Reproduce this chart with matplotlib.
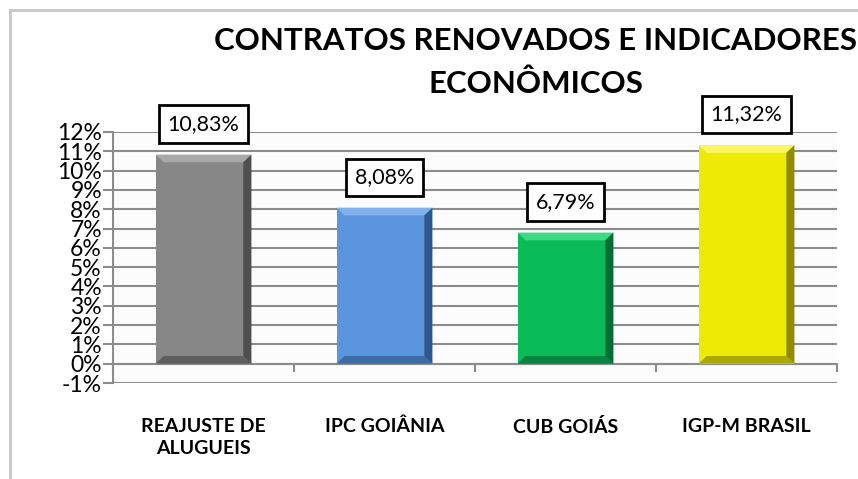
import matplotlib.pyplot as plt
from matplotlib.patches import Polygon
from matplotlib.lines import Line2D
import numpy as np

# --- DADOS ---
categorias = ["REAJUSTE DE\nALUGUEIS", "IPC GOIÂNIA", "CUB GOIÁS", "IGP-M BRASIL"]
valores = [10.83, 8.08, 6.79, 11.32]
rotulos = ["10,83%", "8,08%", "6,79%", "11,32%"]
cores = ["#878787", "#5A95DE", "#09BC58", "#EEEA05"]
cores_escuras = ["#454545", "#284F80", "#046030", "#807C00"]
cores_claras = ["#A8A8A8", "#80B2EE", "#3ED985", "#FAF760"]
ticks_y = list(range(-1, 13))

plt.rcParams['font.family'] = ['Lato', 'DejaVu Sans']

fig = plt.figure(figsize=(8.58, 4.79), dpi=100)
ax = fig.add_axes([113 / 858, 96 / 479, 724 / 858, 251 / 479])
ax.set_facecolor("#FCFCFC")

# spines primeiro (set_position reinicia os ticks)
for s in ["top", "right"]:
    ax.spines[s].set_visible(False)
ax.spines["bottom"].set_position(("data", 0))
ax.spines["bottom"].set_color("#8C8C8C")
ax.spines["bottom"].set_linewidth(1.5)
ax.spines["left"].set_color("#8C8C8C")
ax.spines["left"].set_linewidth(1.5)

x = np.arange(len(categorias))
largura = 0.53
barras = ax.bar(x, valores, width=largura, color=cores, zorder=3)

# efeito de chanfro nas barras
bx, by = 0.045, 0.4
for b, c_esc, c_cla in zip(barras, cores_escuras, cores_claras):
    x0, y0 = b.get_x(), b.get_y()
    x1, y1 = x0 + b.get_width(), y0 + b.get_height()
    topo = [(x0, y1), (x1, y1), (x1 - bx, y1 - by), (x0 + bx, y1 - by)]
    base = [(x0, y0), (x1, y0), (x1 - bx, y0 + by), (x0 + bx, y0 + by)]
    dir_ = [(x1, y0), (x1, y1), (x1 - bx, y1 - by), (x1 - bx, y0 + by)]
    ax.add_patch(Polygon(topo, closed=True, color=c_cla, zorder=4, lw=0))
    ax.add_patch(Polygon(dir_, closed=True, color=c_esc, alpha=0.85, zorder=4, lw=0))
    ax.add_patch(Polygon(base, closed=True, color=c_esc, alpha=0.6, zorder=4, lw=0))

# rótulos de dados
for xi, v, r in zip(x, valores, rotulos):
    ax.annotate(r, (xi, v), xytext=(0, 22), textcoords="offset points",
                ha="center", va="center", fontsize=15.5, clip_on=False, zorder=6,
                bbox=dict(boxstyle="square,pad=0.4", fc="white", ec="black", lw=2))

ax.set_xlim(-0.5, len(categorias) - 0.5)
ax.set_ylim(-1, 12)
ax.set_yticks(ticks_y)
ax.set_yticklabels([f"{t}%" for t in ticks_y], fontsize=16.5, color="black")
ax.yaxis.grid(True, color="#8C8C8C", lw=1.5, zorder=1)
ax.tick_params(axis="y", length=7, width=1.5, color="#8C8C8C", pad=1)

ax.set_xticks(x)
ax.set_xticklabels(categorias, fontsize=14, fontweight="bold", linespacing=1.4)
ax.set_xticks(np.arange(-0.5, len(categorias)), minor=True)
ax.tick_params(axis="x", which="major", length=0, pad=39)
ax.tick_params(axis="x", which="minor", length=6, width=1.5, color="#8C8C8C")
ax.set_axisbelow(True)

# título
fig.text(536 / 858, 1 - 41 / 479, "CONTRATOS RENOVADOS E INDICADORES", ha="center", va="center",
         fontsize=22.5, fontweight="bold")
fig.text(536 / 858, 1 - 84 / 479, "ECONÔMICOS", ha="center", va="center",
         fontsize=22.5, fontweight="bold")

# moldura do gráfico
fig.add_artist(Line2D([10 / 858, 1], [1 - 10 / 479, 1 - 10 / 479], color="#C8C8C8", lw=2))
fig.add_artist(Line2D([10 / 858, 10 / 858], [0, 1 - 10 / 479], color="#C8C8C8", lw=2))

fig.savefig("out.png", dpi=100)
